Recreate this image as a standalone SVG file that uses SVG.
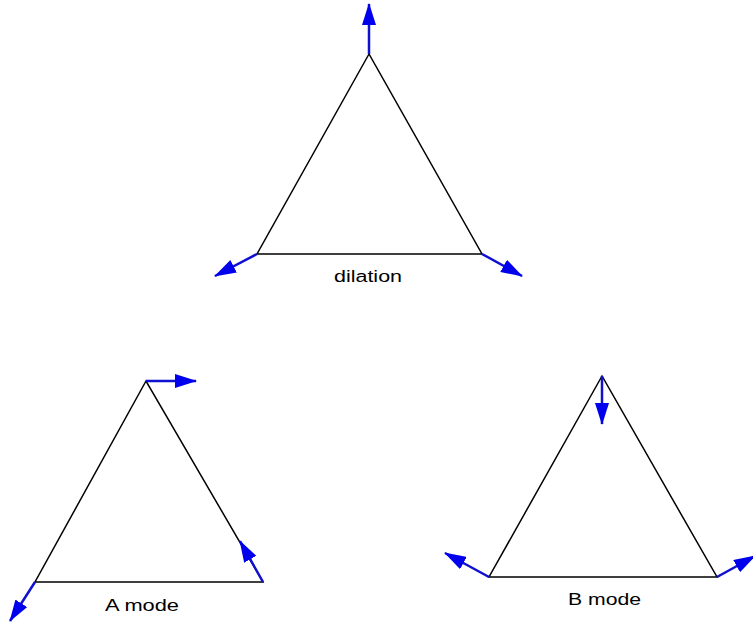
<svg xmlns="http://www.w3.org/2000/svg" width="753" height="625" viewBox="0 0 753 625">
<style>
.tri{fill:none;stroke:#000;stroke-width:1.5;stroke-linejoin:miter}
.arr{stroke:#1010d0;stroke-width:2.5;fill:none;marker-end:url(#ah)}
.lbl{font-family:"Liberation Sans",Arial,sans-serif;font-size:16px;fill:#000}
</style>
<defs>
<marker id="ah" viewBox="0 0 22 14" refX="21" refY="7" markerWidth="22" markerHeight="14" markerUnits="userSpaceOnUse" orient="auto">
<path d="M0,0 L22,7 L0,14 z" fill="#0000ee"/>
</marker>
</defs>
<rect width="753" height="625" fill="#fff"/>
<g id="dilation">
<polygon class="tri" points="369,54 257,254 482,254"/>
<text class="lbl" x="334" y="282" textLength="68" lengthAdjust="spacingAndGlyphs">dilation</text>
</g>
<g id="amode">
<polygon class="tri" points="146,381 35,582 263,582"/>
<text class="lbl" x="105" y="611" textLength="74" lengthAdjust="spacingAndGlyphs">A mode</text>
</g>
<g id="bmode">
<polygon class="tri" points="602,376 489,577 717,577"/>
<text class="lbl" x="568" y="605" textLength="73" lengthAdjust="spacingAndGlyphs">B mode</text>
</g>
<g id="connectors">
<line class="arr" x1="369" y1="54" x2="369" y2="4"/>
<line class="arr" x1="257" y1="254" x2="215" y2="276"/>
<line class="arr" x1="482" y1="254" x2="522" y2="276"/>
<line class="arr" x1="146" y1="381" x2="196" y2="381"/>
<line class="arr" x1="35" y1="582" x2="10" y2="621"/>
<line class="arr" x1="263" y1="582" x2="240" y2="541"/>
<line class="arr" x1="602" y1="376" x2="602" y2="424"/>
<line class="arr" x1="489" y1="577" x2="445" y2="553"/>
<line class="arr" x1="717" y1="577" x2="755" y2="556"/>
</g>
</svg>
